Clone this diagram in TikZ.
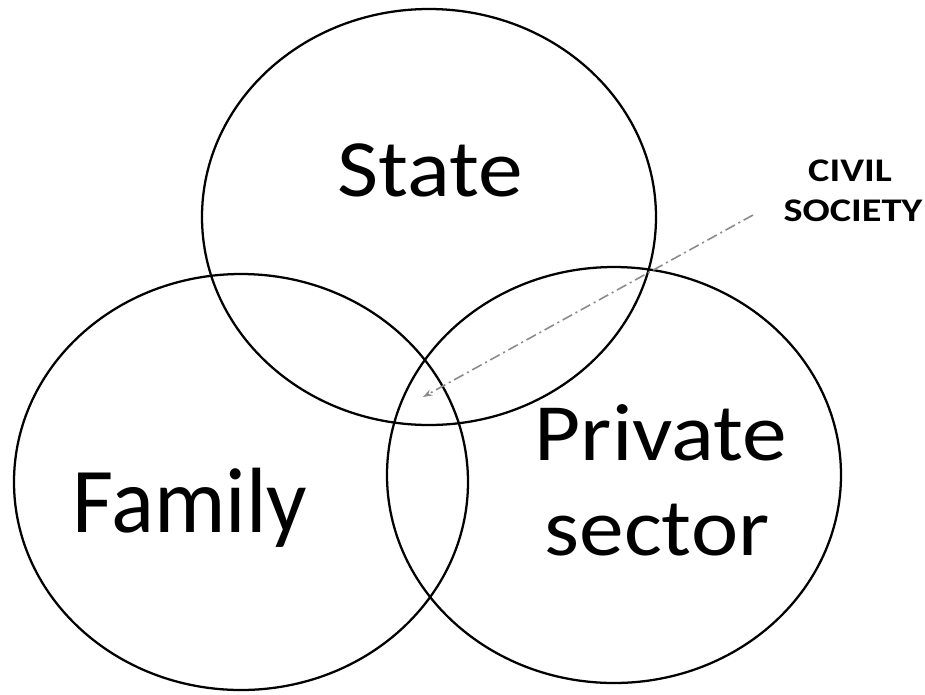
\documentclass[tikz,border=0pt]{standalone}
\usepackage{fontspec}
\setmainfont{Carlito}
\usetikzlibrary{shapes.geometric,arrows.meta}
\begin{document}
\begin{tikzpicture}[x=0.75pt,y=-0.75pt,
  setring/.style={ellipse,draw=black,line width=1.7pt,inner sep=0pt,
    minimum width=340.5pt,minimum height=312pt},
  biglabel/.style={font=\fontsize{61pt}{71pt}\selectfont,inner sep=0pt,xscale=1.1},
  notelabel/.style={font=\bfseries\fontsize{24.75pt}{30pt}\selectfont,inner sep=0pt,
    align=center,xscale=1.22},
  pointer/.style={draw=black!45,line width=1.2pt,
    dash pattern=on 8pt off 3pt on 1.5pt off 3pt,
    -{Stealth[length=7pt,width=5pt]}}]
\useasboundingbox (0,0) rectangle (925,694);
\fill[white] (0,0) rectangle (925,694);

% the three overlapping spheres
\node[setring] (state)   at (429,217) {};
\node[setring] (family)  at (241,482) {};
\node[setring] (private) at (614,475) {};

% sphere names
\node[biglabel,anchor=base] (statetxt) at (430,196) {State};
\node[biglabel,anchor=base,yscale=1.14] (familytxt) at (190,532) {Family};
\node[biglabel,anchor=base] (privatetxt) at (661,460) {Private};
\node[biglabel,anchor=base] (sectortxt) at (657,555) {sector};

% callout for the shared area
\node[notelabel,anchor=base] (civil) at (850,181) {CIVIL};
\node[notelabel,anchor=base] (society) at (853,221) {SOCIETY};
\coordinate (lead) at (753,215);
\coordinate (core) at (423,397);
\draw[pointer] (lead) -- (core);
\end{tikzpicture}
\end{document}
